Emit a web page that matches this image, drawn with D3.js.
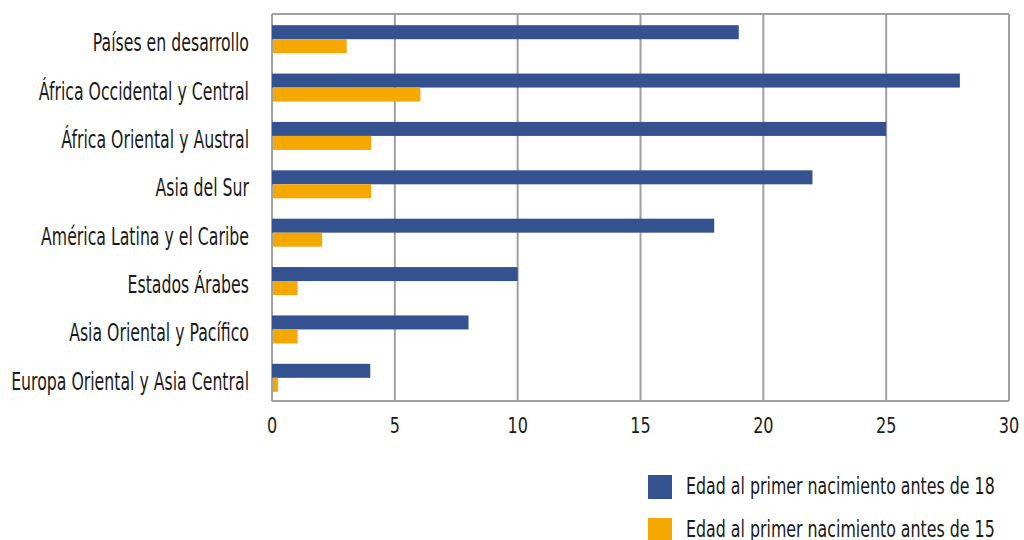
<!DOCTYPE html>
<html><head><meta charset="utf-8">
<script src="https://cdn.jsdelivr.net/npm/d3@7"></script>
<style>
body{margin:0;background:#fff;}
text{font-family:"DejaVu Sans Condensed","DejaVu Sans",sans-serif;fill:#1a1a1a;}
</style></head><body>
<svg id="c" width="1024" height="540"></svg>
<script>
const categories = ["Países en desarrollo","África Occidental y Central","África Oriental y Austral","Asia del Sur","América Latina y el Caribe","Estados Árabes","Asia Oriental y Pacífico","Europa Oriental y Asia Central"];
const before18 = [19,28,25,22,18,10,8,4];
const before15 = [3,6,4,4,2,1,1,0.2];
const seriesNames = ["Edad al primer nacimiento antes de 18","Edad al primer nacimiento antes de 15"];
const xTicks = [0,5,10,15,20,25,30];
const colors = ["#34528f","#f5a800"];

const svg = d3.select("#c");
const L=272, R=1009, T=14, B=401;
const x = d3.scaleLinear().domain([0,30]).range([L,R]);
const y = d3.scaleBand().domain(categories).range([T,B]);
const barH = 14;

// grid
svg.append("g").selectAll("line").data(xTicks.slice(1)).join("line")
  .attr("x1",d=>x(d)).attr("x2",d=>x(d)).attr("y1",T).attr("y2",B)
  .attr("stroke","#a0a0a0").attr("stroke-width",2);
svg.append("line").attr("x1",L).attr("x2",R).attr("y1",T).attr("y2",T).attr("stroke","#a0a0a0").attr("stroke-width",2);
svg.append("line").attr("x1",L).attr("x2",L).attr("y1",T).attr("y2",B).attr("stroke","#a0a0a0").attr("stroke-width",2);
svg.append("line").attr("x1",L).attr("x2",R).attr("y1",B).attr("y2",B).attr("stroke","#a0a0a0").attr("stroke-width",2);

const rows = categories.map((c,i)=>({c,a:before18[i],b:before15[i]}));
const g = svg.append("g");
g.selectAll("rect.a").data(rows).join("rect").attr("class","a")
  .attr("x",x(0)).attr("y",d=>y(d.c)+y.bandwidth()/2-barH+1)
  .attr("width",d=>x(d.a)-x(0)).attr("height",barH).attr("fill",colors[0]);
g.selectAll("rect.b").data(rows).join("rect").attr("class","b")
  .attr("x",x(0)+1).attr("y",d=>y(d.c)+y.bandwidth()/2+1)
  .attr("width",d=>x(d.b)-x(0)).attr("height",barH).attr("fill",colors[1]);

const cs = 0.70; // horizontal condensing
// category labels
svg.append("g").selectAll("text").data(categories).join("text")
  .attr("transform",d=>`translate(249,${y(d)+y.bandwidth()/2+13}) scale(${cs},1)`)
  .attr("text-anchor","end")
  .attr("font-size",25).text(d=>d);

// x axis labels
svg.append("g").selectAll("text").data(xTicks).join("text")
  .attr("transform",d=>`translate(${x(d)},433) scale(0.85,1)`)
  .attr("text-anchor","middle")
  .attr("font-size",21).text(d=>d);

// legend
const lg = svg.append("g");
seriesNames.forEach((n,i)=>{
  lg.append("rect").attr("x",648).attr("y",475+i*43).attr("width",24).attr("height",24).attr("fill",colors[i]);
  lg.append("text").attr("transform",`translate(686,${494+i*43}) scale(0.765,1)`)
    .attr("font-size",23).text(n);
});
</script></body></html>
